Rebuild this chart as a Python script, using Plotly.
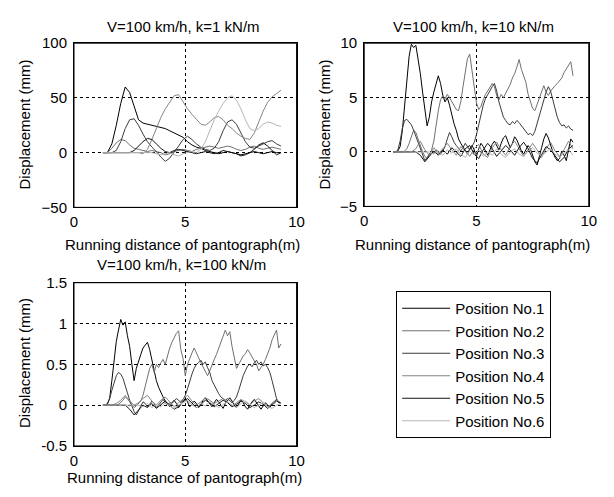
import plotly.graph_objects as go

# ---------------- data ----------------
POSITIONS = ["Position No.1", "Position No.2", "Position No.3",
             "Position No.4", "Position No.5", "Position No.6"]

# running distance sample points (m)
D_COARSE = [1.3, 1.5, 1.7, 1.9, 2.1, 2.3, 2.5, 2.7, 2.9, 3.1,
            3.3, 3.5, 3.7, 3.9, 4.1, 4.3, 4.5, 4.7, 4.9, 5.1,
            5.3, 5.5, 5.7, 5.9, 6.1, 6.3, 6.5, 6.7, 6.9, 7.1,
            7.3, 7.5, 7.7, 7.9, 8.1, 8.3, 8.5, 8.7, 8.9, 9.1, 9.3]
D_FINE = [1.3, 1.4, 1.5, 1.6, 1.7, 1.8, 1.9, 2.0, 2.1, 2.2,
          2.3, 2.4, 2.5, 2.6, 2.7, 2.8, 2.9, 3.0, 3.1, 3.2,
          3.3, 3.4, 3.5, 3.6, 3.7, 3.8, 3.9, 4.0, 4.1, 4.2,
          4.3, 4.4, 4.5, 4.6, 4.7, 4.8, 4.9, 5.0, 5.1, 5.2,
          5.3, 5.4, 5.5, 5.6, 5.7, 5.8, 5.9, 6.0, 6.1, 6.2,
          6.3, 6.4, 6.5, 6.6, 6.7, 6.8, 6.9, 7.0, 7.1, 7.2,
          7.3, 7.4, 7.5, 7.6, 7.7, 7.8, 7.9, 8.0, 8.1, 8.2,
          8.3, 8.4, 8.5, 8.6, 8.7, 8.8, 8.9, 9.0, 9.1, 9.2, 9.3]

# k = 1 kN/m (displacement, mm) on D_COARSE
K1_P1 = [0, 0, 8, 25, 45, 60, 55, 42, 30, 27,
         26, 25, 24, 23, 22, 20, 18, 16, 14, 10,
         7, 5, 4, 2, 1, 0, -1, 0, 1, 0,
         -1, -2, -1, 0, 1, 0, -1, 0, 1, 0, 0]
K1_P2 = [0, 0, 4, 9, 12, 11, 7, 4, 3, 2,
         1, 2, 1, 0, -2, -1, 1, 2, 3, 2,
         1, 3, 4, 5, 6, 5, 4, 5, 6, 5,
         3, 2, 3, 5, 6, 4, 3, 4, 5, 4, 3]
K1_P3 = [0, 0, 0, 2, 10, 22, 30, 31, 25, 17,
         10, 5, 1, -4, -8, -5, 0, 6, 12, 15,
         12, 8, 5, 3, 2, 4, 10, 20, 28, 30,
         26, 18, 10, 5, 4, 6, 8, 10, 11, 8, 6]
K1_P4 = [0, 0, 0, 0, 0, 0, 0, 0, 0, -1,
         3, 12, 22, 32, 40, 46, 52, 53, 46, 40,
         35, 30, 26, 25, 28, 32, 33, 30, 25, 22,
         18, 15, 13, 12, 18, 28, 38, 46, 51, 54, 57]
K1_P5 = [0, 0, 0, 0, 0, 0, 0, 2, 6, 10,
         13, 12, 8, 4, 1, 0, 2, 3, 2, 1,
         0, -1, 0, 1, 0, -1, 0, 2, 1, 0,
         -1, -3, -2, 0, 3, 7, 9, 6, 2, -2, 0]
K1_P6 = [0, 0, 0, 0, 0, 0, 0, 0, 0, 0,
         0, 0, -1, -2, -1, 0, -2, -3, -1, 0,
         1, 0, 3, 10, 20, 30, 38, 45, 50, 52,
         48, 40, 30, 22, 20, 22, 26, 28, 27, 25, 24]

# k = 10 kN/m (displacement, mm); P1-P3 on D_FINE, P4-P6 on D_COARSE
K10_P1 = [0, 0, 0.1, 0.5, 2, 4.5, 7, 8.8, 9.9, 9.6,
          9.8, 8.6, 7.2, 5.5, 3.8, 2.4, 3.2, 4.6, 5.5, 6.4,
          7.0, 6.3, 5.2, 4.6, 5.0, 4.3, 3.4, 2.6, 2.0, 1.2,
          0.8, 0.5, 0.2, -0.2, 0.3, 0.6, 0.2, -0.4, 0.3, 0.8,
          0.5, 0.1, -0.3, 0.2, 0.7, 1.0, 0.6, 0.2, 0.8, 1.3,
          1.5, 1.0, 0.4, 0.8, 1.4, 1.1, 0.5, 0.1, -0.2, 0.2,
          0.6, 0.3, -0.4, -0.9, -1.2, -0.5, 0.4, 1.2, 1.7, 1.3,
          0.6, 0.0, -0.5, -0.8, -0.6, 0.1, -0.3, -0.8, 0.2, 1.2, 0.9]
K10_P2 = [0, 0, 0, 0, 0, 0.1, 0.3, 0.8, 1.5, 2.0,
          1.8, 1.2, 0.5, 0, -0.4, -0.6, -0.3, 0.2, 1.0, 2.5,
          3.8, 4.8, 5.2, 4.9, 5.3, 5.0, 4.6, 4.2, 3.9, 3.8,
          4.6, 6.0, 7.2, 8.6, 9.0, 7.4, 6.0, 4.5, 3.9, 4.2,
          4.8, 5.3, 5.6, 5.9, 6.3, 6.0, 5.2, 4.8, 5.3, 5.0,
          5.4, 5.9, 6.2, 6.8, 7.2, 7.8, 8.5, 7.6, 7.0, 6.4,
          5.3, 4.6, 4.0, 3.8, 4.4, 5.0, 5.6, 6.1, 5.5, 5.2,
          5.6, 5.9, 6.1, 6.3, 6.6, 6.8, 7.3, 7.6, 7.9, 8.3, 7.0]
K10_P3 = [0, 0, 0.2, 1.0, 2.2, 2.9, 3.0, 2.7, 2.5, 2.0,
          1.4, 0.8, 0.3, -0.2, -0.8, -0.5, -0.2, 0.1, -0.1, 0.2,
          0.0, -0.2, 0.1, 0.5, 1.2, 1.8, 1.4, 0.9, 0.6, 0.3,
          0.1, 0.4, 0.8, 0.5, 0.2, 0.5, 0.9, 1.6, 2.6, 3.5,
          4.3, 4.9, 5.3, 5.6, 6.0, 6.3, 5.6, 4.6, 3.8, 3.2,
          2.9, 2.6, 2.5, 2.8, 2.6, 2.9, 2.7, 2.4, 2.2, 1.9,
          1.6, 1.7, 1.5, 1.9, 2.6, 3.4, 4.2, 4.8, 5.5, 6.0,
          5.6, 4.8, 4.0, 3.2, 2.7, 2.4, 2.5, 2.2, 2.4, 2.1, 2.0]
K10_P4 = [0, 0, 0, 0, 0, 0.3, 1.0, 0.2, -0.3, 0.4,
          -0.2, 0.3, 0.8, 0.2, -0.3, 0.5, 0.1, -0.4, 0.3, 0.7,
          -0.2, -0.5, 0.4, 0.9, 0.2, -0.3, 0.5, 1.0, 0.3, -0.4,
          0.2, 0.8, 0.2, -0.5, 0.3, 0.9, 0.1, -0.4, 0.2, 1.0, 0.3]
K10_P5 = [0, 0, 0, 0, 0, 0, -0.3, -0.9, -0.4, 0.1,
          -0.3, 0.2, -0.2, 0.4, 0.0, -0.4, 0.3, 0.6, -0.2, -0.6,
          0.2, 0.8, 0.3, -0.4, 0.1, 0.6, 0.2, -0.3, 0.4, 0.9,
          0.3, -0.6, -1.0, -0.3, 0.5, 0.2, -0.4, -0.9, -0.5, 0.3, 0.6]
K10_P6 = [0, 0, 0, 0, 0, 0, 0, 0, 0, -0.2,
          0.1, -0.3, 0.2, -0.1, 0.3, -0.2, -0.5, 0.1, -0.3, 0.2,
          -0.4, 0.0, -0.3, 0.3, -0.2, -0.5, 0.0, 0.3, -0.2, -0.4,
          0.1, 0.4, -0.1, -0.4, 0.0, 0.3, -0.2, -0.5, -0.1, 0.2, -0.3]

# k = 100 kN/m (displacement, mm); P1-P3 on D_FINE, P4-P6 on D_COARSE
K100_P1 = [0, 0, 0.01, 0.08, 0.3, 0.55, 0.78, 0.92, 1.05, 0.98,
           1.02, 0.85, 0.72, 0.5, 0.3, 0.45, 0.55, 0.62, 0.7, 0.74,
           0.77, 0.68, 0.55, 0.42, 0.3, 0.22, 0.15, 0.1, 0.05, 0.02,
           -0.02, 0.03, 0.06, 0.02, -0.03, 0.01, 0.05, 0.08, 0.04, -0.02,
           0.01, 0.05, 0.02, -0.03, 0.0, 0.06, 0.09, 0.05, 0.01, -0.02,
           0.03, 0.07, 0.04, 0.0, -0.04, 0.02, 0.06, 0.09, 0.05, 0.0,
           -0.03, 0.02, 0.06, 0.03, -0.02, -0.05, 0.0, 0.04, 0.07, 0.03,
           -0.02, -0.05, -0.01, 0.03, 0.0, -0.03, 0.02, 0.05, 0.07, 0.04, 0.02]
K100_P2 = [0, 0, 0, 0, 0, 0, 0, 0.01, 0.03, 0.06,
           0.1, 0.08, 0.04, 0.0, -0.03, -0.01, 0.02, 0.05, 0.12, 0.22,
           0.35, 0.45, 0.5, 0.4, 0.5, 0.46, 0.52, 0.56, 0.5, 0.62,
           0.7, 0.77, 0.82, 0.88, 0.91, 0.68, 0.57, 0.36, 0.5, 0.58,
           0.64, 0.7, 0.63, 0.58, 0.52, 0.46, 0.42, 0.36, 0.42, 0.5,
           0.56, 0.62, 0.7, 0.78, 0.86, 0.92, 0.85, 0.9, 0.72, 0.6,
           0.45, 0.5, 0.55, 0.6, 0.63, 0.68, 0.64, 0.58, 0.54, 0.5,
           0.42, 0.46, 0.5, 0.56, 0.62, 0.7, 0.8, 0.87, 0.92, 0.7, 0.75]
K100_P3 = [0, 0, 0.02, 0.08, 0.18, 0.28, 0.36, 0.4, 0.38, 0.33,
           0.25, 0.15, 0.06, -0.02, -0.08, -0.12, -0.06, 0.0, 0.04, 0.02,
           -0.02, 0.01, 0.05, 0.02, -0.03, 0.0, 0.04, 0.07, 0.03, 0.0,
           0.03, 0.02, 0.05, 0.08, 0.06, 0.03, 0.07, 0.12, 0.2, 0.3,
           0.38, 0.45, 0.5, 0.52, 0.55, 0.5, 0.53, 0.46, 0.4, 0.3,
           0.24, 0.18, 0.14, 0.1, 0.08, 0.06, 0.08, 0.05, 0.03, 0.06,
           0.1, 0.18, 0.28, 0.36, 0.42, 0.48, 0.5, 0.47, 0.52, 0.55,
           0.5, 0.53, 0.48, 0.5, 0.46, 0.4, 0.3, 0.18, 0.08, 0.03, 0.02]
K100_P4 = [0, 0, 0, 0.02, 0.06, 0.12, 0.05, 0.0, 0.03, 0.08,
           0.12, 0.05, 0.0, 0.06, 0.1, 0.04, -0.02, 0.03, 0.08, 0.12,
           0.05, 0.0, 0.04, 0.09, 0.06, 0.02, 0.05, 0.08, 0.04, -0.01,
           0.03, 0.07, 0.04, 0.0, 0.05, 0.08, 0.03, -0.02, 0.02, 0.06, 0.03]
K100_P5 = [0, 0, 0, 0, 0, 0, -0.05, -0.12, -0.06, 0.0,
           -0.03, 0.02, -0.04, 0.01, 0.05, 0.0, -0.05, -0.02, 0.04, 0.08,
           0.02, -0.03, 0.01, 0.06, 0.03, -0.02, 0.02, 0.06, 0.03, -0.02,
           0.01, 0.05, 0.02, -0.03, 0.0, 0.04, 0.01, -0.04, 0.0, 0.05, 0.02]
K100_P6 = [0, 0, 0, 0, 0, 0, 0, 0, 0, -0.02,
           0.02, -0.03, 0.01, -0.02, 0.03, -0.01, -0.04, 0.0, 0.03, 0.06,
           0.0, -0.03, 0.02, -0.01, 0.04, 0.0, -0.03, 0.01, 0.04, 0.0,
           -0.03, 0.02, 0.05, 0.01, -0.03, 0.0, 0.03, -0.02, -0.04, 0.0, 0.02]

TITLES = ["V=100 km/h, k=1 kN/m", "V=100 km/h, k=10 kN/m", "V=100 km/h, k=100 kN/m"]
X_LABEL = "Running distance of pantograph(m)"
Y_LABEL = "Displacement (mm)"
X_TICKS = [0, 5, 10]
Y_TICKS_1 = [-50, 0, 50, 100]
Y_TICKS_2 = [-5, 0, 5, 10]
Y_TICKS_3 = [-0.5, 0, 0.5, 1, 1.5]
Y_TICKTEXT_3 = ["-0.5", "0", "0.5", "1", "1.5"]

# ---------------- styling ----------------
COLORS = ["#000000", "#707070", "#3c3c3c", "#858585", "#151515", "#b4b4b4"]
FONT = "Liberation Sans, Arial, Helvetica, sans-serif"
W, H = 614, 497

fig = go.Figure()

panels = [
    ([(D_COARSE, K1_P1), (D_COARSE, K1_P2), (D_COARSE, K1_P3),
      (D_COARSE, K1_P4), (D_COARSE, K1_P5), (D_COARSE, K1_P6)], "x", "y"),
    ([(D_FINE, K10_P1), (D_FINE, K10_P2), (D_FINE, K10_P3),
      (D_COARSE, K10_P4), (D_COARSE, K10_P5), (D_COARSE, K10_P6)], "x2", "y2"),
    ([(D_FINE, K100_P1), (D_FINE, K100_P2), (D_FINE, K100_P3),
      (D_COARSE, K100_P4), (D_COARSE, K100_P5), (D_COARSE, K100_P6)], "x3", "y3"),
]

for pi, (series, xa, ya) in enumerate(panels):
    for si, (xs, ys) in enumerate(series):
        fig.add_trace(go.Scatter(
            x=xs, y=ys, mode="lines", name=POSITIONS[si],
            legendgroup=POSITIONS[si], showlegend=(pi == 0),
            line=dict(color=COLORS[si], width=1),
            xaxis=xa, yaxis=ya))

def px_x(p):
    return p / W

def px_y(p):
    return 1 - p / H

BOXES = [  # axes boxes in pixels: left, right, top, bottom
    (71.4, 298.4, 35.4, 205.4),
    (367.4, 596.4, 35.4, 204.4),
    (71.4, 298.4, 283.4, 452.4),
]

def ax_style(is_x):
    return dict(
        showline=True, linecolor="rgb(0,0,0)", linewidth=1, mirror=True,
        showgrid=True, gridcolor="#000000", griddash="3px,3px",
        zeroline=False, ticks="outside", ticklen=(1 if is_x else 3),
        tickcolor="rgba(255,255,255,0)",
        tickfont=dict(family=FONT, size=15, color="#000000"),
    )

def dom_x(b):
    return [px_x(b[0]), px_x(b[1])]

def dom_y(b):
    return [px_y(b[3]), px_y(b[2])]

fig.update_layout(
    width=W, height=H,
    margin=dict(l=0, r=0, t=0, b=0),
    plot_bgcolor="white",
    font=dict(family=FONT, size=15, color="#000000"),
    xaxis=dict(domain=dom_x(BOXES[0]), range=[0, 10], tickvals=X_TICKS, anchor="y", **ax_style(True)),
    yaxis=dict(domain=dom_y(BOXES[0]), range=[-50, 100], tickvals=Y_TICKS_1, anchor="x", **ax_style(False)),
    xaxis2=dict(domain=dom_x(BOXES[1]), range=[0, 10], tickvals=X_TICKS, anchor="y2", **ax_style(True)),
    yaxis2=dict(domain=dom_y(BOXES[1]), range=[-5, 10], tickvals=Y_TICKS_2, anchor="x2", **ax_style(False)),
    xaxis3=dict(domain=dom_x(BOXES[2]), range=[0, 10], tickvals=X_TICKS, anchor="y3", **ax_style(True)),
    yaxis3=dict(domain=dom_y(BOXES[2]), range=[-0.5, 1.5], tickvals=Y_TICKS_3,
                ticktext=Y_TICKTEXT_3, anchor="x3", **ax_style(False)),
    legend=dict(
        x=px_x(400), y=px_y(292), xanchor="left", yanchor="top",
        bordercolor="#000000", borderwidth=1, traceorder="normal",
        itemwidth=48,
        font=dict(family=FONT, size=15, color="#000000"),
    ),
)

# frame around each axes box, in paper coordinates
shapes = []
for (l, r, t, b) in BOXES:
    shapes.append(dict(type="rect", xref="paper", yref="paper",
                       x0=px_x(l), x1=px_x(r), y0=px_y(b), y1=px_y(t),
                       line=dict(color="rgb(0,0,0)", width=1)))

ann = []
def text(x, y, s, angle=0):
    ann.append(dict(x=px_x(x), y=px_y(y), xref="paper", yref="paper", text=s,
                    showarrow=False, xanchor="center", yanchor="middle",
                    textangle=angle, font=dict(family=FONT, size=15, color="#000000")))

text(183, 18, TITLES[0])
text(479, 18, TITLES[1])
text(181, 265, TITLES[2])
text(182, 244, X_LABEL)
text(478, 244, X_LABEL)
text(184, 485, X_LABEL)
text(21, 120, Y_LABEL, -90)
text(327, 120, Y_LABEL, -90)
text(21, 367, Y_LABEL, -90)
fig.update_layout(annotations=ann, shapes=shapes)

fig.write_html("out.html", config={"displayModeBar": False},
               post_script="document.body.style.margin='0';")
